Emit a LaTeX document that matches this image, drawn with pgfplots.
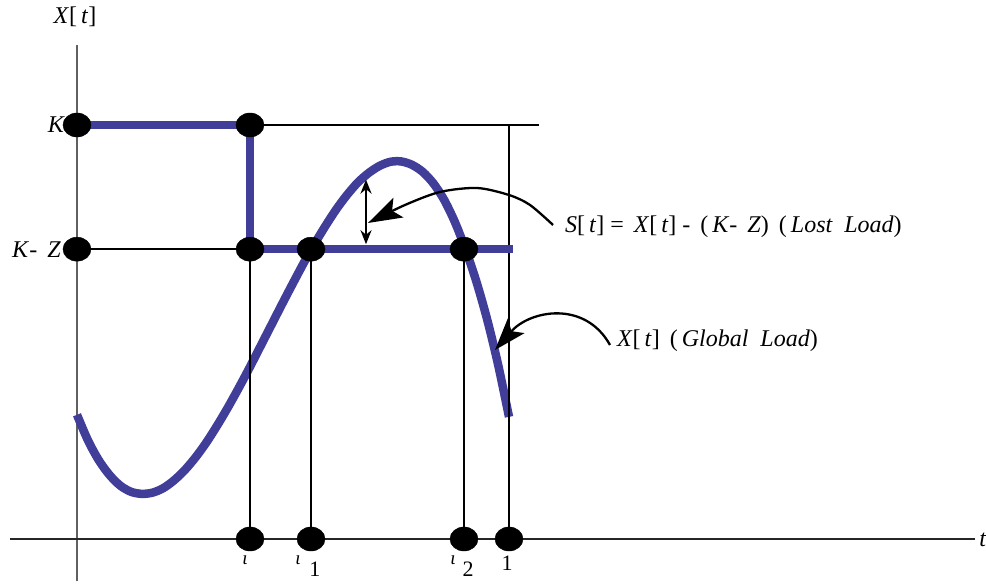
\documentclass[border=0pt]{standalone}
\usepackage{pgfplots}
\pgfplotsset{compat=1.18}
\usetikzlibrary{arrows.meta}
\usepackage{fontspec}
\setmainfont{Liberation Serif}

\definecolor{loadblue}{RGB}{64,62,153}
\newcommand{\vi}[1]{\textit{#1}}
\tikzset{
  lbl/.style={font=\fontsize{24}{28}\selectfont, inner sep=0pt},
  sublbl/.style={font=\fontsize{22}{26}\selectfont, inner sep=0pt},
  taulbl/.style={font=\fontsize{19}{22}\selectfont, inner sep=0pt},
}

\begin{document}
\begin{tikzpicture}
\begin{axis}[
  width=986pt, height=586pt, scale only axis,
  xmin=-0.17824, xmax=2.10417, ymin=-0.11353, ymax=1.30193,
  hide axis, clip=false,
]
% coordinate axes
\addplot[gray!75!black, line width=1.3pt] coordinates {(0,-0.1014) (0,1.1932)};
\addplot[black!85, line width=1.3pt] coordinates {(-0.155,0) (2.0787,0)};

% global load X[t]
\addplot[loadblue, line width=8.5pt, smooth] coordinates {
  (0,0.300) (0.025,0.239) (0.05,0.191) (0.075,0.155) (0.10,0.129)
  (0.125,0.114) (0.15,0.109) (0.175,0.112) (0.20,0.123) (0.225,0.142)
  (0.25,0.167) (0.275,0.198) (0.30,0.234) (0.325,0.275) (0.35,0.319)
  (0.375,0.366) (0.40,0.415) (0.425,0.466) (0.45,0.517) (0.475,0.568)
  (0.50,0.618) (0.525,0.667) (0.55,0.713) (0.575,0.756) (0.60,0.796)
  (0.625,0.831) (0.65,0.861) (0.675,0.884) (0.70,0.901) (0.725,0.911)
  (0.75,0.912) (0.775,0.904) (0.80,0.887) (0.825,0.859) (0.85,0.819)
  (0.875,0.765) (0.90,0.698) (0.925,0.620) (0.95,0.528) (0.975,0.420)
  (1.0,0.295)};

% guide lines
\addplot[black, line width=2.3pt] coordinates {(0,1) (1.0694,1)};
\addplot[black, line width=2.3pt] coordinates {(0,0.7) (1.0093,0.7)};
\addplot[black, line width=2.3pt] coordinates {(0.4005,0) (0.4005,1)};
\addplot[black, line width=2.3pt] coordinates {(0.5417,0) (0.5417,0.7)};
\addplot[black, line width=2.3pt] coordinates {(0.8958,0) (0.8958,0.7)};
\addplot[black, line width=2.3pt] coordinates {(1,0) (1,1)};

% capacity: K, dropping to K-Z at tau
\addplot[loadblue, line width=8.5pt] coordinates {(0,1) (0.4005,1) (0.4005,0.7) (1.0093,0.7)};

% lost load S[t]
\addplot[black, line width=2.3pt,
  {Stealth[length=14pt,width=11pt]}-{Stealth[length=14pt,width=11pt]}]
  coordinates {(0.669,0.712) (0.669,0.868)};

% event points
\addplot[only marks, mark=*, mark size=12pt,
  mark options={xscale=1.17, fill=black, draw=black}] coordinates {
  (0,1) (0.4005,1) (0,0.7) (0.4005,0.7) (0.5417,0.7) (0.8958,0.7)
  (0.4005,0) (0.5417,0) (0.8958,0) (1,0)};

% callout arrows
\addplot[black, line width=2.3pt, smooth,
  -{Stealth[length=34pt,width=22pt,inset=7pt]}] coordinates {
  (1.1019,0.7585) (1.0486,0.8068) (1.0,0.8309) (0.9259,0.8478)
  (0.8403,0.8382) (0.7593,0.8068) (0.6736,0.7633)};
\draw[black, line width=2.3pt, -{Stealth[length=32pt,width=22pt,inset=7pt]}]
  (axis cs:1.2338,0.4686) .. controls (axis cs:1.1759,0.5773)
  and (axis cs:1.0486,0.5531) .. (axis cs:0.9676,0.4565);

% labels
\node[lbl, anchor=center] at (axis cs:-0.0046,1.2609) {\vi{X}[\,\vi{t}]};
\node[lbl, anchor=base] at (axis cs:2.0972,-0.0193) {\vi{t}};
\node[lbl, anchor=east, xshift=-12pt] at (axis cs:0,1) {\vi{K}};
\node[lbl, anchor=east, xshift=-16pt] at (axis cs:0,0.7) {\vi{K}- \,\vi{Z}};

\node[taulbl, anchor=base] at (axis cs:0.3889,-0.0628) {\vi{ι}};
\node[taulbl, anchor=base] at (axis cs:0.5116,-0.0628) {\vi{ι}};
\node[sublbl, anchor=base] at (axis cs:0.5509,-0.0918) {1};
\node[taulbl, anchor=base] at (axis cs:0.8704,-0.0628) {\vi{ι}};
\node[sublbl, anchor=base] at (axis cs:0.9051,-0.0918) {2};
\node[sublbl, anchor=base] at (axis cs:0.9954,-0.0749) {1};

\node[lbl, anchor=base west] at (axis cs:1.1296,0.7415)
  {\vi{S}[\,\vi{t}] = \,\vi{X}[\,\vi{t}] - \,(\,\vi{K}- \,\vi{Z}) \,(\,\vi{Lost\ \ Load})};
\node[lbl, anchor=base west] at (axis cs:1.25,0.4638)
  {\vi{X}[\,\vi{t}] \,(\,\vi{Global\ \ Load})};

\coordinate (bbSW) at (rel axis cs:0,0);
\coordinate (bbNE) at (rel axis cs:1,1);
\end{axis}
\pgfresetboundingbox
\useasboundingbox (bbSW) rectangle (bbNE);
\end{tikzpicture}
\end{document}
